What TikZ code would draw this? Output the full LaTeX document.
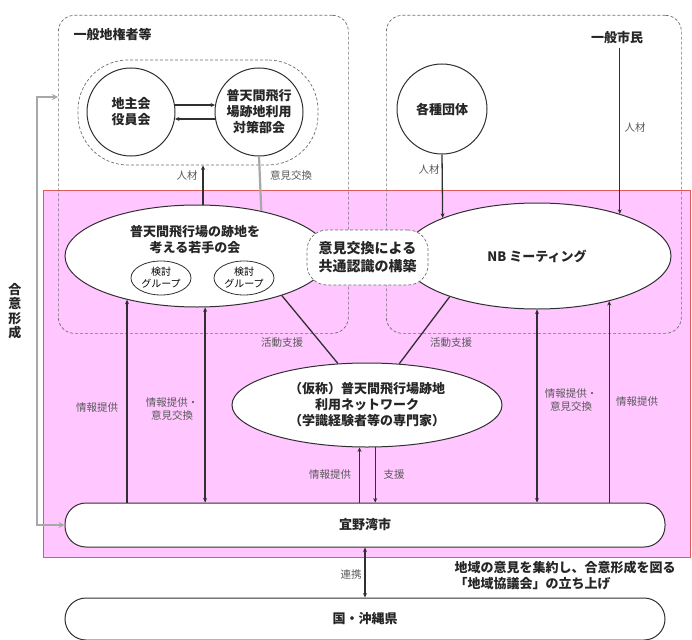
\documentclass[tikz,border=0pt]{standalone}
\usepackage{fontspec}
\setmainfont{Noto Sans CJK JP}
\usetikzlibrary{arrows.meta,shapes.geometric}
\definecolor{pinkbg}{HTML}{FFC6FF}
\definecolor{pinkedge}{HTML}{E05A5A}
\definecolor{dashgray}{HTML}{6E6E6E}
\definecolor{linecol}{HTML}{303030}
\definecolor{graylink}{HTML}{A8A8A8}
\definecolor{labelcol}{HTML}{5A5A5A}
\begin{document}
\begin{tikzpicture}[x=1pt,y=-1pt,
  main/.style={font=\fontsize{13}{16}\selectfont\bfseries, text=black!85, align=center},
  lbl/.style={font=\fontsize{10.5}{13.5}\selectfont, text=labelcol, align=center, inner sep=0pt},
  grp/.style={rectangle, dash pattern=on 3pt off 2pt, draw=dashgray, line width=0.7pt, rounded corners=16pt, inner sep=0pt},
  circ/.style={circle, draw=linecol, line width=1pt, fill=white, minimum size=88pt, inner sep=0pt, main},
  ell/.style={ellipse, draw=linecol, line width=1pt, fill=white, inner sep=0pt, main},
  subg/.style={ellipse, draw=linecol, line width=0.8pt, fill=white, inner sep=0pt, minimum width=60pt, minimum height=34pt, font=\fontsize{10}{12}\selectfont, align=center},
  pill/.style={rectangle, rounded corners=21pt, draw=linecol, line width=1pt, fill=white, minimum width=600pt, inner sep=0pt, main},
  conn/.style={draw=linecol, line width=1.3pt},
  arr/.style={conn, -{Stealth[length=4.5pt,width=4pt]}},
  darr/.style={conn, {Stealth[length=4.5pt,width=4pt]}-{Stealth[length=4.5pt,width=4pt]}},
  glink/.style={draw=graylink, line width=2.2pt},
]
\useasboundingbox (0,0) rectangle (692,639);

% pink region
\node[draw=pinkedge, fill=pinkbg, line width=0.8pt, anchor=north west, minimum width=647pt, minimum height=367pt, inner sep=0pt] (region) at (43,190) {};

% dashed groups
\node[grp, anchor=north west, minimum width=290pt, minimum height=318pt] (gL) at (58,15) {};
\node[grp, anchor=north west, minimum width=295pt, minimum height=318pt] (gR) at (386,15) {};
\node[main, anchor=west] (tL) at (70,35) {一般地権者等};
\node[main] (tR) at (617,38) {一般市民};

% landowners
\node[grp, minimum width=240pt, minimum height=105pt, rounded corners=50pt] (pair) at (198,112.5) {};
\node[circ] (c1) at (131,112) {地主会\\役員会};
\node[circ] (c2) at (259,112) {普天間飛行\\場跡地利用\\対策部会};
\node[circ, minimum size=90pt] (dan) at (442,109) {各種団体};

% ellipses
\node[ell, minimum width=264pt, minimum height=102pt] (youth) at (197,256) {};
\node[main] (youthT) at (195,240) {普天間飛行場の跡地を\\考える若手の会};
\node[subg] (s1) at (161,278) {検討\\グループ};
\node[subg] (s2) at (244,278) {検討\\グループ};
\node[ell, minimum width=268pt, minimum height=106pt] (NB) at (537,256) {NB ミーティング};
\node[ell, minimum width=270pt, minimum height=84pt] (net) at (367,405) {（仮称）普天間飛行場跡地\\利用ネットワーク\\（学識経験者等の専門家）};
\node[grp, fill=white, minimum width=121pt, minimum height=55pt, rounded corners=20pt, main, font=\fontsize{14}{18}\selectfont\bfseries] (kyo) at (367.5,257.5) {意見交換による\\共通認識の構築};

% city and state
\node[pill, minimum height=44pt] (city) at (365,525) {宜野湾市};
\node[pill, minimum height=42pt] (kuni) at (365,619) {国・沖縄県};
\node[main, align=left, anchor=north west] (note) at (451,558) {地域の意見を集約し、合意形成を図る\\「地域協議会」の立ち上げ};

% connectors top
\draw[arr] (c1.9) -- (c2.171);
\draw[arr] (c2.189) -- (c1.351);
\coordinate (hx) at (203,0);
\draw[arr] (hx |- youth.north) -- (hx |- pair.south);
\node[lbl] at (187,176) {人材};
\draw[glink] (c2.south) -- (youth.35);
\node[lbl] at (291,176) {意見交換};
\draw[arr] (dan.south) -- (NB.158);
\node[lbl] at (429,170) {人材};
\draw[arr] (NB.27 |- tR.south) -- (NB.27);
\node[lbl] at (635,128) {人材};

% diagonals
\draw[conn] (youth.335) -- (net.125);
\node[lbl] at (282,343) {活動支援};
\draw[conn] (NB.205) -- (net.52);
\node[lbl] at (451,343) {活動支援};

% verticals
\draw[arr] (youth.212 |- city.north) -- (youth.212);
\node[lbl] at (97,408) {情報提供};
\draw[darr] (youth.279 |- city.north) -- (youth.279);
\node[lbl] at (172,409) {情報提供・\\意見交換};
\draw[arr] (net.260 |- city.north) -- (net.260);
\node[lbl] at (330,475) {情報提供};
\draw[arr] (net.281) -- (net.281 |- city.north);
\node[lbl] at (394,475) {支援};
\draw[darr] (NB.south |- city.north) -- (NB.south);
\node[lbl] at (571,400) {情報提供・\\意見交換};
\draw[arr] (NB.328 |- city.north) -- (NB.328);
\node[lbl] at (637,402) {情報提供};

% bottom
\draw[darr] (city.south) -- (kuni.north);
\node[lbl] at (351,575) {連携};

% consensus formation
\coordinate (agU) at (37,97);
\coordinate (agL) at (37,525);
\draw[glink, {Stealth[length=6pt,width=6pt]}-{Stealth[length=6pt,width=6pt]}] (agU -| gL.west) -- (agU) -- (agL) -- (city.west);
\node[main, font=\fontsize{13}{14.5}\selectfont\bfseries] (goui) at (15,311) {合\\意\\形\\成};
\end{tikzpicture}
\end{document}
